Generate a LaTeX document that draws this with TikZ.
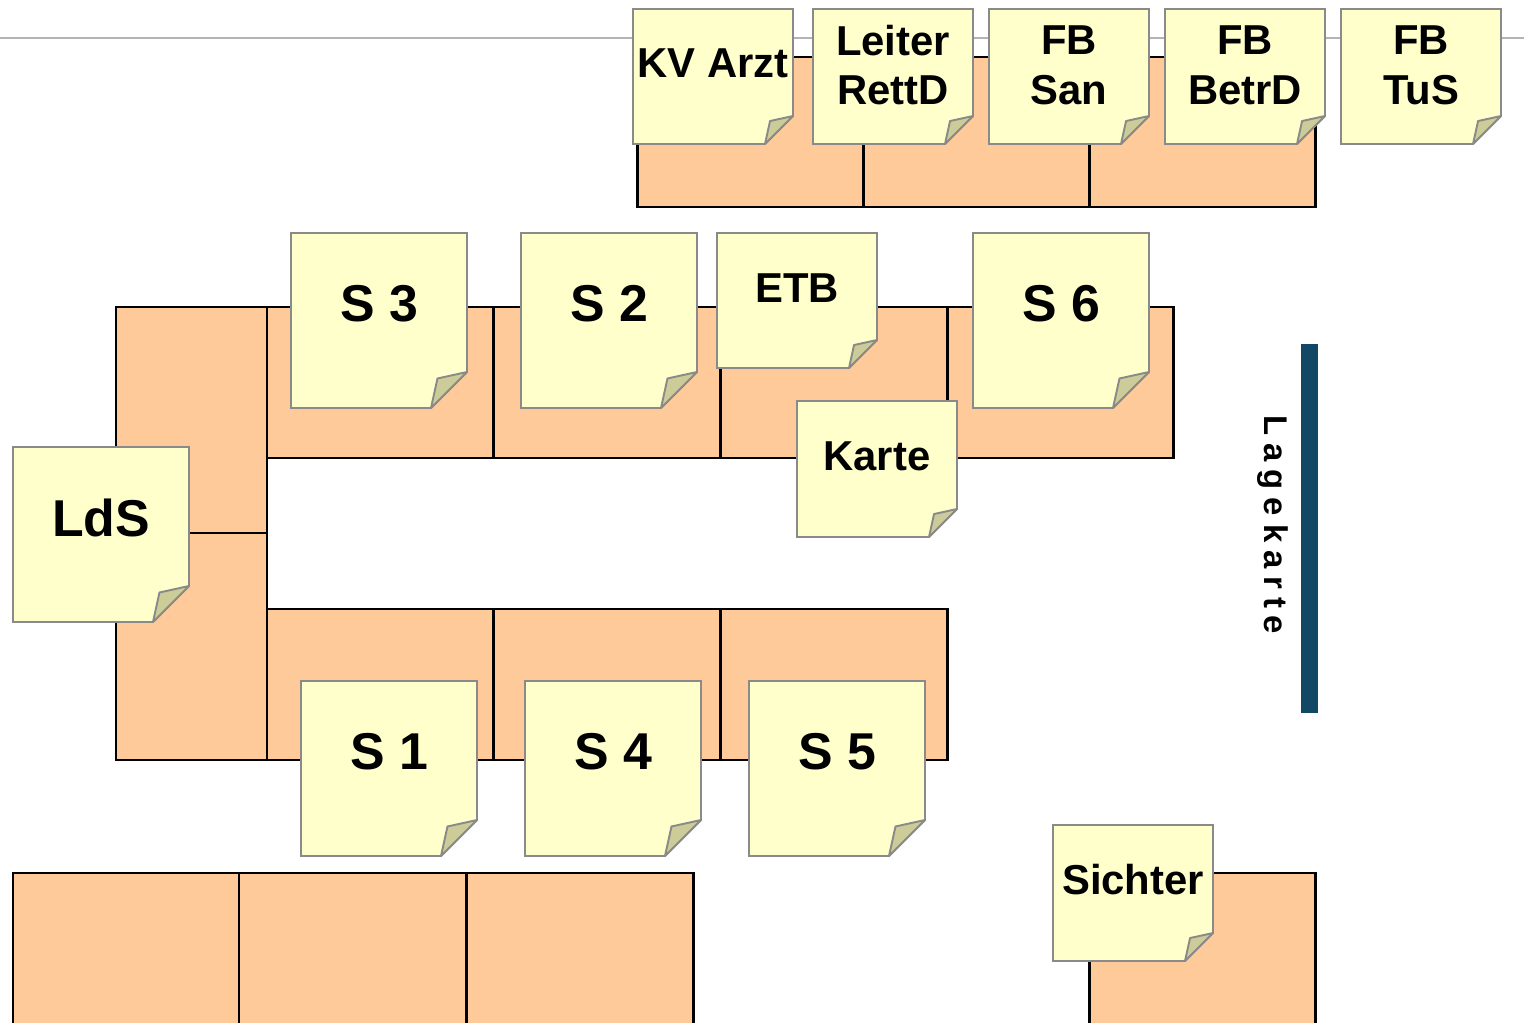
\documentclass[tikz,border=0pt]{standalone}
\usepackage{fontspec}
\setmainfont{Liberation Sans}
\definecolor{tableorange}{HTML}{FFCA99}
\definecolor{noteyellow}{HTML}{FFFFCC}
\definecolor{notefold}{HTML}{CCCC99}
\definecolor{noteedge}{HTML}{8A8A8A}
\definecolor{barblue}{HTML}{124766}
\definecolor{rulegray}{HTML}{B4B4B4}
% #1 left, #2 top, #3 right, #4 bottom, #5 cut
\newcommand\stickynote[5]{%
  \filldraw[notebody] (#1,#2) -- (#3,#2) -- (#3,#4-#5) -- (#3-#5,#4) -- (#1,#4) -- cycle;
  \filldraw[notefoldst] (#3,#4-#5) -- (#3-0.82*#5,#4-0.82*#5) -- (#3-#5,#4) -- cycle;
}
\begin{document}
\begin{tikzpicture}[x=0.02cm,y=-0.02cm,
  tablebox/.style={fill=tableorange,draw=black,line width=1.7pt},
  notebody/.style={fill=noteyellow,draw=noteedge,line width=1.1pt,line join=miter},
  notefoldst/.style={fill=notefold,draw=noteedge,line width=1.1pt,line join=round},
  smalltext/.style={font=\fontsize{23.8}{28.3}\selectfont\bfseries,align=center,inner sep=0pt},
  bigtext/.style={font=\fontsize{29.5}{35}\selectfont\bfseries,inner sep=0pt}]
\clip (0,0) rectangle (1524,1023);
% guide line
\draw[rulegray,line width=1.1pt] (0,38) -- (1524,38);
% tables: top row
\draw[tablebox] (637,57) rectangle (863,207);
\draw[tablebox] (863,57) rectangle (1089,207);
\draw[tablebox] (1089,57) rectangle (1315,207);
% upper middle row
\draw[tablebox] (267,307) rectangle (493,458);
\draw[tablebox] (493,307) rectangle (720,458);
\draw[tablebox] (720,307) rectangle (947,458);
\draw[tablebox] (947,307) rectangle (1173,458);
% left column
\draw[tablebox] (116,307) rectangle (267,533);
\draw[tablebox] (116,533) rectangle (267,760);
% lower middle row
\draw[tablebox] (267,609) rectangle (493,760);
\draw[tablebox] (493,609) rectangle (720,760);
\draw[tablebox] (720,609) rectangle (947,760);
% bottom row
\draw[tablebox] (13,873) rectangle (239,1040);
\draw[tablebox] (239,873) rectangle (466,1040);
\draw[tablebox] (466,873) rectangle (693,1040);
\draw[tablebox] (1089,873) rectangle (1315,1040);
% wall map bar
\fill[barblue] (1301,344) rectangle (1318,713);
\node[rotate=-90,inner sep=0pt,font=\fontsize{18.7}{20}\selectfont\bfseries] (lagekarte) at (1273,525)
  {L\kern4.5pt a\kern4.5pt g\kern4.5pt e\kern4.5pt k\kern4.5pt a\kern4.5pt r\kern4.5pt t\kern4.5pt e};
% top notes
\stickynote{633}{9}{793}{144}{28}
\node[smalltext] (kvarzt) at (713,63) {KV Arzt};
\stickynote{813}{9}{973}{144}{28}
\node[smalltext] (leiter) at (893,65) {Leiter\\RettD};
\stickynote{989}{9}{1149}{144}{28}
\node[smalltext] (fbsan) at (1069,65) {FB\\San};
\stickynote{1165}{9}{1325}{144}{28}
\node[smalltext] (fbbetrd) at (1245,65) {FB\\BetrD};
\stickynote{1341}{9}{1501}{144}{28}
\node[smalltext] (fbtus) at (1421,65) {FB\\TuS};
% middle notes
\stickynote{291}{233}{467}{408}{36}
\node[bigtext] (s3) at (379,304) {S 3};
\stickynote{521}{233}{697}{408}{36}
\node[bigtext] (s2) at (609,304) {S 2};
\stickynote{717}{233}{877}{368}{28}
\node[smalltext] (etb) at (797,288) {ETB};
\stickynote{973}{233}{1149}{408}{36}
\node[bigtext] (s6) at (1061,304) {S 6};
\stickynote{797}{401}{957}{537}{28}
\node[smalltext] (karte) at (877,456) {Karte};
\stickynote{13}{447}{189}{622}{36}
\node[bigtext] (lds) at (101,518) {LdS};
% lower notes
\stickynote{301}{681}{477}{856}{36}
\node[bigtext] (s1) at (389,752) {S 1};
\stickynote{525}{681}{701}{856}{36}
\node[bigtext] (s4) at (613,752) {S 4};
\stickynote{749}{681}{925}{856}{36}
\node[bigtext] (s5) at (837,752) {S 5};
\stickynote{1053}{825}{1213}{961}{28}
\node[smalltext] (sichter) at (1133,880) {Sichter};
\end{tikzpicture}
\end{document}
